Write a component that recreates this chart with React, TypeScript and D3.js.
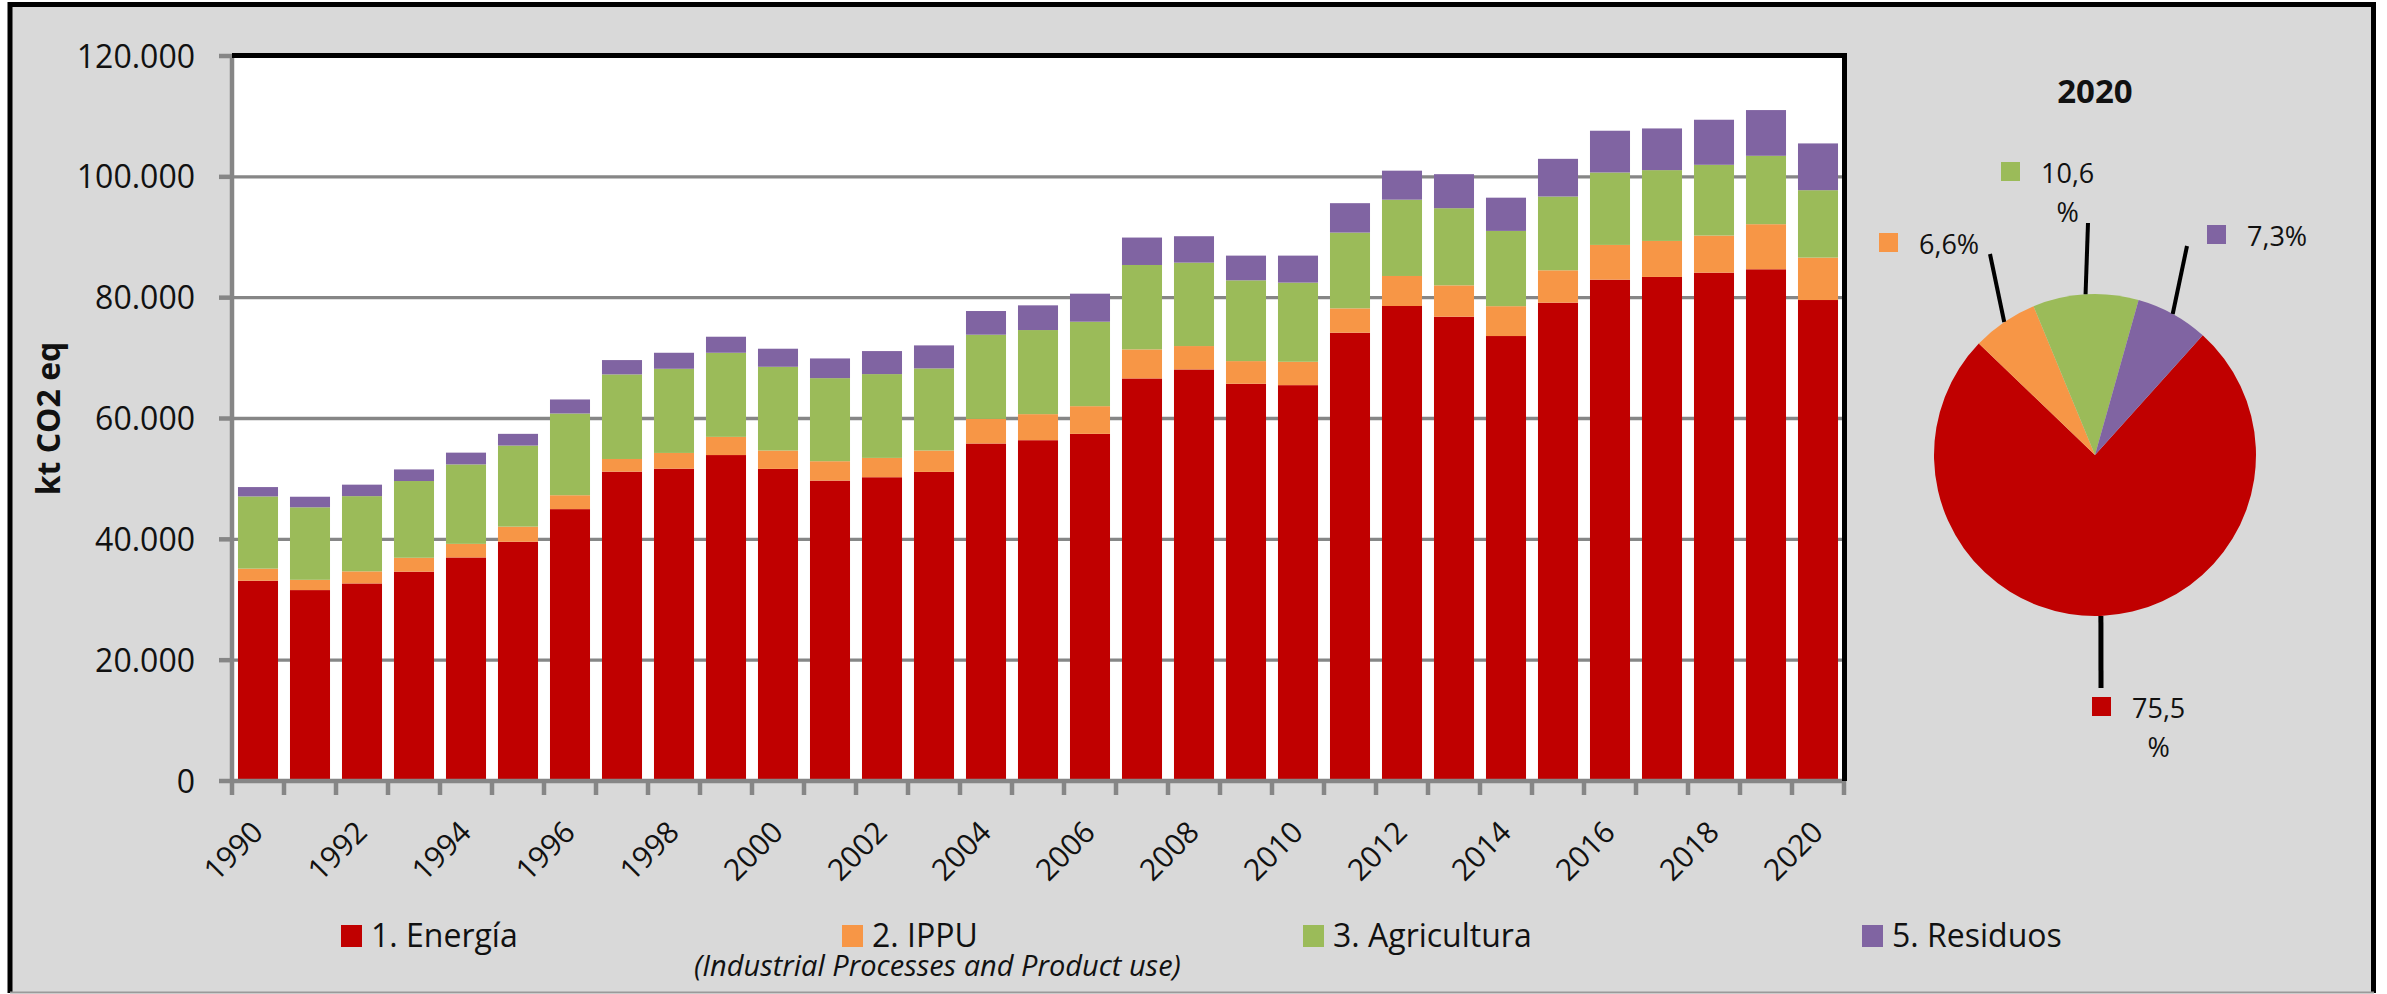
import React, { useEffect, useRef } from 'react';
import * as d3 from 'd3';

// Emisiones por sector, kt CO2 eq (1990-2020)
const years = [1990, 1991, 1992, 1993, 1994, 1995, 1996, 1997, 1998, 1999, 2000, 2001, 2002, 2003, 2004, 2005,
  2006, 2007, 2008, 2009, 2010, 2011, 2012, 2013, 2014, 2015, 2016, 2017, 2018, 2019, 2020];
const energia = [33150, 31600, 32700, 34650, 37000, 39600, 45000, 51200, 51700, 53950, 51660, 49720, 50280, 51160,
  55860, 56410, 57460, 66630, 68120, 65750, 65520, 74200, 78620, 76850, 73650, 79170, 82980, 83430, 84140, 84700, 79610];
const ippu = [2000, 1700, 2000, 2300, 2250, 2500, 2300, 2100, 2600, 3010, 3040, 3210, 3200, 3540, 4080, 4310, 4580,
  4810, 3870, 3750, 3870, 4030, 4970, 5190, 4940, 5360, 5750, 5960, 6140, 7460, 7020];
const agricultura = [11950, 12000, 12450, 12700, 13150, 13420, 13530, 14000, 13930, 13920, 13860, 13750, 13870, 13590,
  13930, 13920, 13980, 13970, 13810, 13370, 13100, 12540, 12630, 12770, 12460, 12210, 11990, 11720, 11710, 11320, 11160];
const residuos = [1550, 1750, 1900, 1920, 1950, 1940, 2320, 2370, 2650, 2655, 2990, 3260, 3810, 3810, 3920, 4090, 4640,
  4540, 4370, 4090, 4470, 4870, 4800, 5630, 5500, 6240, 6910, 6900, 7460, 7570, 7740];

const seriesKeys = ['energia', 'ippu', 'agricultura', 'residuos'];
const seriesNames = ['1. Energía', '2. IPPU', '3. Agricultura', '5. Residuos'];
const seriesColors = ['#C00000', '#F79646', '#9BBB59', '#8064A2'];
const yTicks = [0, 20000, 40000, 60000, 80000, 100000, 120000];

// pie of the last year, % share
const pieTitle = '2020';
const pieShares = [75.5, 6.6, 10.6, 7.3];

const FONT = '"Open Sans", sans-serif';
const GRID = '#868686';

export default function App() {
  const svgRef = useRef<SVGSVGElement>(null);

  useEffect(() => {
    const W = 2387, H = 994;
    const svg = d3.select(svgRef.current);
    svg.selectAll('*').remove();
    svg.attr('width', W).attr('height', H);

    // page + outer frame
    svg.append('rect').attr('width', W).attr('height', H).attr('fill', '#fff');
    svg.append('rect').attr('x', 10).attr('y', 4.5).attr('width', 2364).attr('height', 988).attr('fill', '#d9d9d9');
    svg.append('path').attr('d', 'M10,993 V4.5 H2373.5 V993')
      .attr('fill', 'none').attr('stroke', '#000').attr('stroke-width', 5);
    svg.append('line').attr('x1', 10).attr('x2', 2374).attr('y1', 992.5).attr('y2', 992.5)
      .attr('stroke', '#9a9a9a').attr('stroke-width', 2);

    const plot = { left: 232, right: 1844, top: 56, bottom: 781 };

    const x = d3.scaleBand<number>()
      .domain(years)
      .range([plot.left, plot.right])
      .paddingInner(0.23)
      .paddingOuter(0.115);

    const y = d3.scaleLinear()
      .domain([0, 120000])
      .range([plot.bottom, plot.top]);

    // plot background
    svg.append('rect')
      .attr('x', plot.left).attr('y', plot.top)
      .attr('width', plot.right - plot.left).attr('height', plot.bottom - plot.top)
      .attr('fill', '#fff');

    // gridlines
    svg.append('g').selectAll('line')
      .data(yTicks.slice(1, -1))
      .enter().append('line')
      .attr('x1', plot.left).attr('x2', plot.right)
      .attr('y1', d => y(d)).attr('y2', d => y(d))
      .attr('stroke', GRID).attr('stroke-width', 3.3);

    // stacked bars
    const table = years.map((yr, i) => ({
      year: yr, energia: energia[i], ippu: ippu[i], agricultura: agricultura[i], residuos: residuos[i],
    }));
    const stacked = d3.stack<any>().keys(seriesKeys)(table);

    svg.append('g').selectAll('g')
      .data(stacked)
      .enter().append('g')
      .attr('fill', (d, i) => seriesColors[i])
      .selectAll('rect')
      .data(d => d)
      .enter().append('rect')
      .attr('x', d => x(d.data.year) as number)
      .attr('y', d => y(d[1]))
      .attr('width', x.bandwidth())
      .attr('height', d => y(d[0]) - y(d[1]));

    // y axis
    const fmt = d3.formatLocale({ decimal: ',', thousands: '.', grouping: [3], currency: ['', ''] }).format(',.0f');
    svg.append('line')
      .attr('x1', plot.left).attr('x2', plot.left)
      .attr('y1', plot.top - 2).attr('y2', plot.bottom + 2)
      .attr('stroke', GRID).attr('stroke-width', 4.5);
    svg.append('g').selectAll('line')
      .data(yTicks)
      .enter().append('line')
      .attr('x1', plot.left - 13).attr('x2', plot.left)
      .attr('y1', d => y(d)).attr('y2', d => y(d))
      .attr('stroke', GRID).attr('stroke-width', 4.5);
    svg.append('g').selectAll('text')
      .data(yTicks)
      .enter().append('text')
      .attr('x', 195)
      .attr('y', d => y(d))
      .attr('dy', '0.36em')
      .attr('text-anchor', 'end')
      .style('font-family', FONT).style('font-size', '32px').attr('fill', '#111')
      .text(d => fmt(d));

    // y axis title
    svg.append('text')
      .attr('transform', `translate(60,${(plot.top + plot.bottom) / 2}) rotate(-90)`)
      .attr('text-anchor', 'middle')
      .style('font-family', FONT).style('font-size', '32px').style('font-weight', 'bold').attr('fill', '#111')
      .text('kt CO2 eq');

    // x axis
    svg.append('line')
      .attr('x1', plot.left - 2).attr('x2', plot.right + 2)
      .attr('y1', plot.bottom).attr('y2', plot.bottom)
      .attr('stroke', GRID).attr('stroke-width', 4.5);
    const step = x.step();
    const boundaries = years.map((yr, i) => plot.left + i * step).concat([plot.right]);
    svg.append('g').selectAll('line')
      .data(boundaries)
      .enter().append('line')
      .attr('x1', d => d).attr('x2', d => d)
      .attr('y1', plot.bottom).attr('y2', plot.bottom + 14)
      .attr('stroke', GRID).attr('stroke-width', 4.5);
    svg.append('g').selectAll('text')
      .data(years.filter(yr => yr % 2 === 0))
      .enter().append('text')
      .attr('transform', d => `translate(${(x(d) as number) + x.bandwidth() / 2 + 7},834) rotate(-45)`)
      .attr('text-anchor', 'end')
      .style('font-family', FONT).style('font-size', '30px').attr('fill', '#111')
      .text(d => String(d));

    // plot border top / right
    svg.append('path')
      .attr('d', `M${plot.left},${plot.top - 0.5} H${plot.right + 0.5} V${plot.bottom}`)
      .attr('fill', 'none').attr('stroke', '#000').attr('stroke-width', 5);

    // legend
    const legendX = [341, 842, 1303, 1862];
    const legend = svg.append('g');
    legend.selectAll('rect')
      .data(seriesNames)
      .enter().append('rect')
      .attr('x', (d, i) => legendX[i]).attr('y', 925)
      .attr('width', 21).attr('height', 22)
      .attr('fill', (d, i) => seriesColors[i]);
    legend.selectAll('text')
      .data(seriesNames)
      .enter().append('text')
      .attr('x', (d, i) => legendX[i] + 30).attr('y', 947)
      .style('font-family', FONT).style('font-size', '32px').attr('fill', '#111')
      .text(d => d);
    svg.append('text')
      .attr('x', 694).attr('y', 976)
      .style('font-family', FONT).style('font-size', '29px').style('font-style', 'italic').attr('fill', '#111')
      .text('(Industrial Processes and Product use)');

    // pie
    const cx = 2095, cy = 455, r = 161;
    const a0 = (42 * Math.PI) / 180;
    const pie = d3.pie<number>().sort(null).value(d => d).startAngle(a0).endAngle(a0 + 2 * Math.PI);
    const arc = d3.arc<d3.PieArcDatum<number>>().innerRadius(0).outerRadius(r);
    const arcs = pie(pieShares);

    svg.append('text')
      .attr('x', cx).attr('y', 103)
      .attr('text-anchor', 'middle')
      .style('font-family', FONT).style('font-size', '33px').style('font-weight', 'bold').attr('fill', '#111')
      .text(pieTitle);

    const pg = svg.append('g').attr('transform', `translate(${cx},${cy})`);
    pg.selectAll('path')
      .data(arcs)
      .enter().append('path')
      .attr('d', arc)
      .attr('fill', (d, i) => seriesColors[i]);

    // label layout: swatch corner and leader end, relative to pie centre
    const labelLayout = [
      { sx: -3, sy: 242, lx: 6, ly: 233, wrap: true },
      { sx: -216, sy: -222, lx: -105, ly: -201, wrap: false },
      { sx: -94, sy: -293, lx: -7, ly: -232, wrap: true },
      { sx: 112, sy: -230, lx: 92, ly: -209, wrap: false },
    ];

    arcs.forEach((d, i) => {
      const L = labelLayout[i];
      const mid = (d.startAngle + d.endAngle) / 2;
      pg.append('line')
        .attr('x1', r * Math.sin(mid)).attr('y1', -r * Math.cos(mid))
        .attr('x2', L.lx).attr('y2', L.ly)
        .attr('stroke', '#000').attr('stroke-width', i === 0 ? 5 : 4);

      pg.append('rect')
        .attr('x', L.sx).attr('y', L.sy)
        .attr('width', 19).attr('height', 19)
        .attr('fill', seriesColors[i]);

      const num = d.data.toFixed(1).replace('.', ',');
      const t1 = pg.append('text')
        .attr('x', L.sx + 40).attr('y', L.sy + 21)
        .style('font-family', FONT).style('font-size', '27px').attr('fill', '#111')
        .text(L.wrap ? num : num + '%');
      if (L.wrap) {
        const w = (t1.node() as SVGTextElement).getComputedTextLength();
        pg.append('text')
          .attr('x', L.sx + 40 + w / 2).attr('y', L.sy + 60)
          .attr('text-anchor', 'middle')
          .style('font-family', FONT).style('font-size', '27px').attr('fill', '#111')
          .text('%');
      }
    });
  }, []);

  return (
    <svg ref={svgRef} style={{ position: 'absolute', left: 0, top: 0, display: 'block' }}></svg>
  );
}
